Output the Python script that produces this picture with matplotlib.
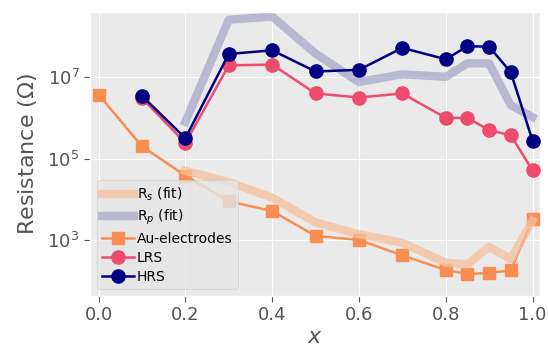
import numpy as np
import matplotlib
matplotlib.use('Agg')
import matplotlib.pyplot as plt

plt.style.use('ggplot')

# composition x and measured resistances (log10 of Ohm)
x_au = [0.0, 0.1, 0.2, 0.3, 0.4, 0.5, 0.6, 0.7, 0.8, 0.85, 0.9, 0.95, 1.0]
log_au = [6.57, 5.30, 4.58, 3.95, 3.71, 3.10, 3.00, 2.62, 2.26, 2.16, 2.19, 2.25, 3.51]

x_rs = [0.1, 0.2, 0.3, 0.4, 0.5, 0.6, 0.7, 0.8, 0.85, 0.9, 0.95, 1.0]
log_lrs = [6.49, 5.38, 7.29, 7.31, 6.60, 6.50, 6.60, 6.00, 6.00, 5.70, 5.57, 4.71]
log_hrs = [6.54, 5.50, 7.57, 7.66, 7.14, 7.18, 7.72, 7.44, 7.76, 7.75, 7.12, 5.44]

x_fit = [0.2, 0.3, 0.4, 0.5, 0.6, 0.7, 0.8, 0.85, 0.9, 0.95, 1.0]
log_rs_fit = [4.70, 4.42, 4.04, 3.43, 3.14, 2.93, 2.44, 2.40, 2.83, 2.53, 3.47]
log_rp_fit = [5.90, 8.41, 8.49, 7.58, 6.88, 7.07, 7.01, 7.34, 7.34, 6.31, 6.02]

COLORS = {
    'rs': '#f4c09c',
    'rp': '#9e9ec4',
    'au': '#f98e52',
    'lrs': '#ee4b6e',
    'hrs': '#000080',
}

fig, ax = plt.subplots(figsize=(5.48, 3.55), dpi=100)
ax.set_facecolor('#eaeaea')

au = 10 ** np.array(log_au)
lrs = 10 ** np.array(log_lrs)
hrs = 10 ** np.array(log_hrs)
rs_fit = 10 ** np.array(log_rs_fit)
rp_fit = 10 ** np.array(log_rp_fit)

ax.plot(x_au, au, marker='s', ms=8, lw=1.8, color=COLORS['au'], label='Au-electrodes', zorder=3)
ax.plot(x_rs, lrs, marker='o', ms=9.5, lw=1.8, color=COLORS['lrs'], label='LRS', zorder=3)
ax.plot(x_rs, hrs, marker='o', ms=9.5, lw=1.8, color=COLORS['hrs'], label='HRS', zorder=3)
ax.plot(x_fit, rs_fit, lw=6, color=COLORS['rs'], alpha=0.75, label=r'R$_s$ (fit)', zorder=4)
ax.plot(x_fit, rp_fit, lw=6, color=COLORS['rp'], alpha=0.65, label=r'R$_p$ (fit)', zorder=2)

ax.set_yscale('log')
ax.set_xlim(-0.02, 1.018)
ax.set_ylim(10 ** 1.62, 10 ** 8.6)
ax.set_yticks([1e3, 1e5, 1e7])
ax.yaxis.set_minor_locator(matplotlib.ticker.NullLocator())
ax.set_xticks([0.0, 0.2, 0.4, 0.6, 0.8, 1.0])
ax.tick_params(labelsize=13, colors='#555555', length=4)
ax.set_xlabel(r'$x$', fontsize=16, color='#555555', labelpad=2)
ax.set_ylabel(r'Resistance ($\Omega$)', fontsize=16, color='#555555', labelpad=6)

handles, labels = ax.get_legend_handles_labels()
order = [3, 4, 0, 1, 2]
leg = ax.legend([handles[i] for i in order], [labels[i] for i in order],
                loc='lower left', fontsize=10, handlelength=2.3,
                labelspacing=0.35, borderpad=0.4, handletextpad=0.2, framealpha=0.8)

fig.subplots_adjust(left=0.164, right=0.986, top=0.966, bottom=0.166)
fig.savefig('out.png', dpi=100)
